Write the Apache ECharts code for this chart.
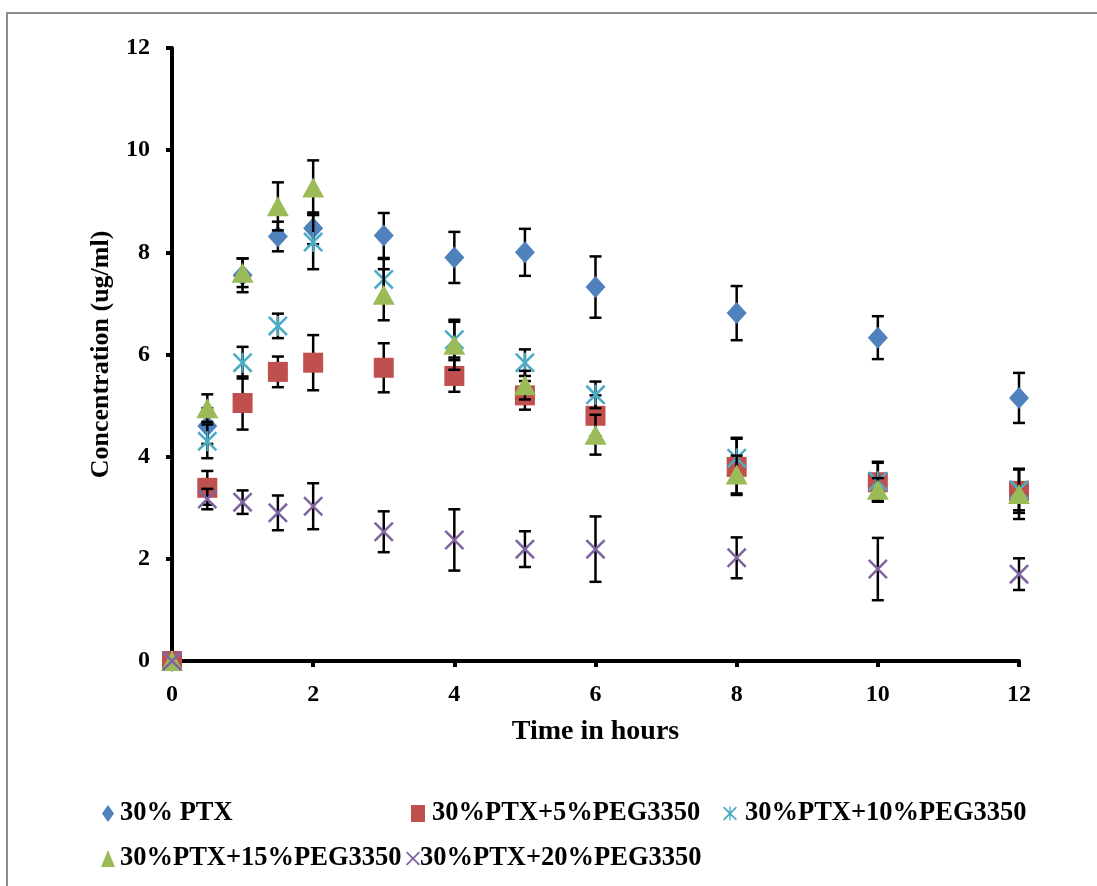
<!DOCTYPE html>
<html>
<head>
<meta charset="utf-8">
<script src="https://cdn.jsdelivr.net/npm/echarts@6/dist/echarts.min.js"></script>
<style>
  html, body { margin: 0; padding: 0; background: #fff; }
  #chart { width: 1097px; height: 886px; }
</style>
</head>
<body>
<div id="chart"></div>
<script>
// Sampling times (hours)
const times = [0, 0.5, 1, 1.5, 2, 3, 4, 5, 6, 8, 10, 12];

// Mean concentrations (ug/ml) per formulation
const ptx30      = [0, 4.60, 7.55, 8.31, 8.47, 8.33, 7.90, 8.00, 7.32, 6.81, 6.33, 5.15];
const peg5       = [0, 3.39, 5.05, 5.66, 5.84, 5.74, 5.58, 5.20, 4.80, 3.80, 3.50, 3.33];
const peg10      = [0, 4.30, 5.84, 6.56, 8.20, 7.47, 6.29, 5.84, 5.21, 3.97, 3.52, 3.35];
const peg15      = [0, 4.95, 7.60, 8.90, 9.27, 7.17, 6.19, 5.40, 4.43, 3.65, 3.35, 3.27];
const peg20      = [0, 3.17, 3.11, 2.90, 3.03, 2.53, 2.37, 2.19, 2.19, 2.02, 1.80, 1.70];

// Standard deviations (error bar half-lengths)
const ptx30Sd    = [0, 0.35, 0.33, 0.29, 0.31, 0.44, 0.50, 0.46, 0.60, 0.53, 0.42, 0.49];
const peg5Sd     = [0, 0.33, 0.52, 0.30, 0.54, 0.48, 0.31, 0.28, 0.40, 0.55, 0.38, 0.43];
const peg10Sd    = [0, 0.33, 0.31, 0.24, 0.53, 0.40, 0.35, 0.26, 0.26, 0.40, 0.38, 0.40];
const peg15Sd    = [0, 0.27, 0.28, 0.47, 0.53, 0.50, 0.49, 0.28, 0.39, 0.37, 0.23, 0.49];
const peg20Sd    = [0, 0.20, 0.23, 0.34, 0.45, 0.40, 0.60, 0.35, 0.64, 0.40, 0.61, 0.31];

// Axis ticks
const xTicks = [0, 2, 4, 6, 8, 10, 12];
const yTicks = [0, 2, 4, 6, 8, 10, 12];

const seriesNames = [
  '30% PTX',
  '30%PTX+5%PEG3350',
  '30%PTX+10%PEG3350',
  '30%PTX+15%PEG3350',
  '30%PTX+20%PEG3350'
];

const FONT = '"Liberation Serif", "Times New Roman", serif';

// Thin-stroke marker shapes built as filled paths
const xPath = 'path://M0,9L9,0L100,91L91,100Z M91,0L100,9L9,100L0,91Z';
const starPath = 'path://M0,9L9,0L100,91L91,100Z M91,0L100,9L9,100L0,91Z M45,0L55,0L55,100L45,100Z';

const styles = [
  { color: '#4F81BD', symbol: 'diamond', size: [20, 22] },
  { color: '#C0504D', symbol: 'rect', size: [20, 20] },
  { color: '#4BACC6', symbol: starPath, size: [20, 20] },
  { color: '#9BBB59', symbol: 'triangle', size: [22, 20] },
  { color: '#8064A2', symbol: xPath, size: [20, 20] }
];

const means = [ptx30, peg5, peg10, peg15, peg20];
const sds = [ptx30Sd, peg5Sd, peg10Sd, peg15Sd, peg20Sd];

function errorBarRenderer(params, api) {
  const x = api.value(0), y = api.value(1), e = api.value(2);
  if (!e) return null;
  const top = api.coord([x, y + e]);
  const bot = api.coord([x, y - e]);
  const hw = 6;
  const st = { stroke: '#000', lineWidth: 2.5 };
  return {
    type: 'group',
    children: [
      { type: 'line', shape: { x1: top[0], y1: top[1], x2: bot[0], y2: bot[1] }, style: st },
      { type: 'line', shape: { x1: top[0] - hw, y1: top[1], x2: top[0] + hw, y2: top[1] }, style: st },
      { type: 'line', shape: { x1: bot[0] - hw, y1: bot[1], x2: bot[0] + hw, y2: bot[1] }, style: st }
    ]
  };
}

const series = [];
seriesNames.forEach((name, i) => {
  // error bars first, then markers of the same series on top
  series.push({
    name: name + ' SD',
    type: 'custom',
    z: 2 + i * 2,
    clip: false,
    renderItem: errorBarRenderer,
    data: times.map((t, k) => [t, means[i][k], sds[i][k]]),
    silent: true
  });
  series.push({
    name: name,
    type: 'scatter',
    z: 3 + i * 2,
    clip: false,
    symbol: styles[i].symbol,
    symbolSize: styles[i].size,
    itemStyle: { color: styles[i].color, opacity: 1 },
    data: times.map((t, k) => [t, means[i][k]])
  });
});

const legendPos = [
  { left: 102, top: 800, w: 12, pad: 1 },
  { left: 411, top: 800, w: 14, pad: 2 },
  { left: 723, top: 800, w: 14, pad: 3 },
  { left: 101, top: 845, w: 14, pad: 0 },
  { left: 406, top: 845, w: 14, pad: -5 }
];

const legends = seriesNames.map((name, i) => ({
  data: [{ name: name, icon: i === 2 ? starPath : (i === 4 ? xPath : undefined) }],
  left: legendPos[i].left,
  top: legendPos[i].top,
  itemWidth: legendPos[i].w,
  itemHeight: 17,
  itemGap: 0,
  padding: 0,
  selectedMode: false,
  textStyle: {
    fontFamily: FONT, fontWeight: 'bold', fontSize: 26.5, color: '#000',
    padding: [0, 0, 0, legendPos[i].pad]
  }
}));

const chart = echarts.init(document.getElementById('chart'), null, { renderer: 'canvas' });
chart.setOption({
  backgroundColor: '#fff',
  animation: false,
  graphic: [
    {
      type: 'rect',
      shape: { x: 7, y: 13, width: 1200, height: 1000 },
      style: { fill: 'none', stroke: '#8c8c8c', lineWidth: 2 },
      silent: true,
      z: 0
    }
  ],
  grid: { left: 172, right: 78, top: 48, bottom: 225 },
  legend: legends,
  xAxis: {
    type: 'value',
    min: xTicks[0],
    max: xTicks[xTicks.length - 1],
    interval: 2,
    name: 'Time in hours',
    nameLocation: 'middle',
    nameGap: 57,
    nameTextStyle: { fontFamily: FONT, fontWeight: 'bold', fontSize: 28, color: '#000' },
    axisLine: { show: true, lineStyle: { color: '#000', width: 4 } },
    axisTick: { show: true, inside: false, length: 6, lineStyle: { color: '#000', width: 4 } },
    axisLabel: {
      fontFamily: FONT, fontWeight: 'bold', fontSize: 24, color: '#000', margin: 22,
      formatter: v => xTicks.includes(v) ? String(v) : ''
    },
    splitLine: { show: false }
  },
  yAxis: {
    type: 'value',
    min: yTicks[0],
    max: yTicks[yTicks.length - 1],
    interval: 2,
    name: 'Concentration (ug/ml)',
    nameLocation: 'middle',
    nameGap: 58,
    nameTextStyle: { fontFamily: FONT, fontWeight: 'bold', fontSize: 26, color: '#000' },
    axisLine: { show: true, lineStyle: { color: '#000', width: 4 } },
    axisTick: { show: true, inside: false, length: 6, lineStyle: { color: '#000', width: 4 } },
    axisLabel: {
      fontFamily: FONT, fontWeight: 'bold', fontSize: 24, color: '#000', margin: 22,
      formatter: v => yTicks.includes(v) ? String(v) : ''
    },
    splitLine: { show: false }
  },
  series: series
});
</script>
</body>
</html>
